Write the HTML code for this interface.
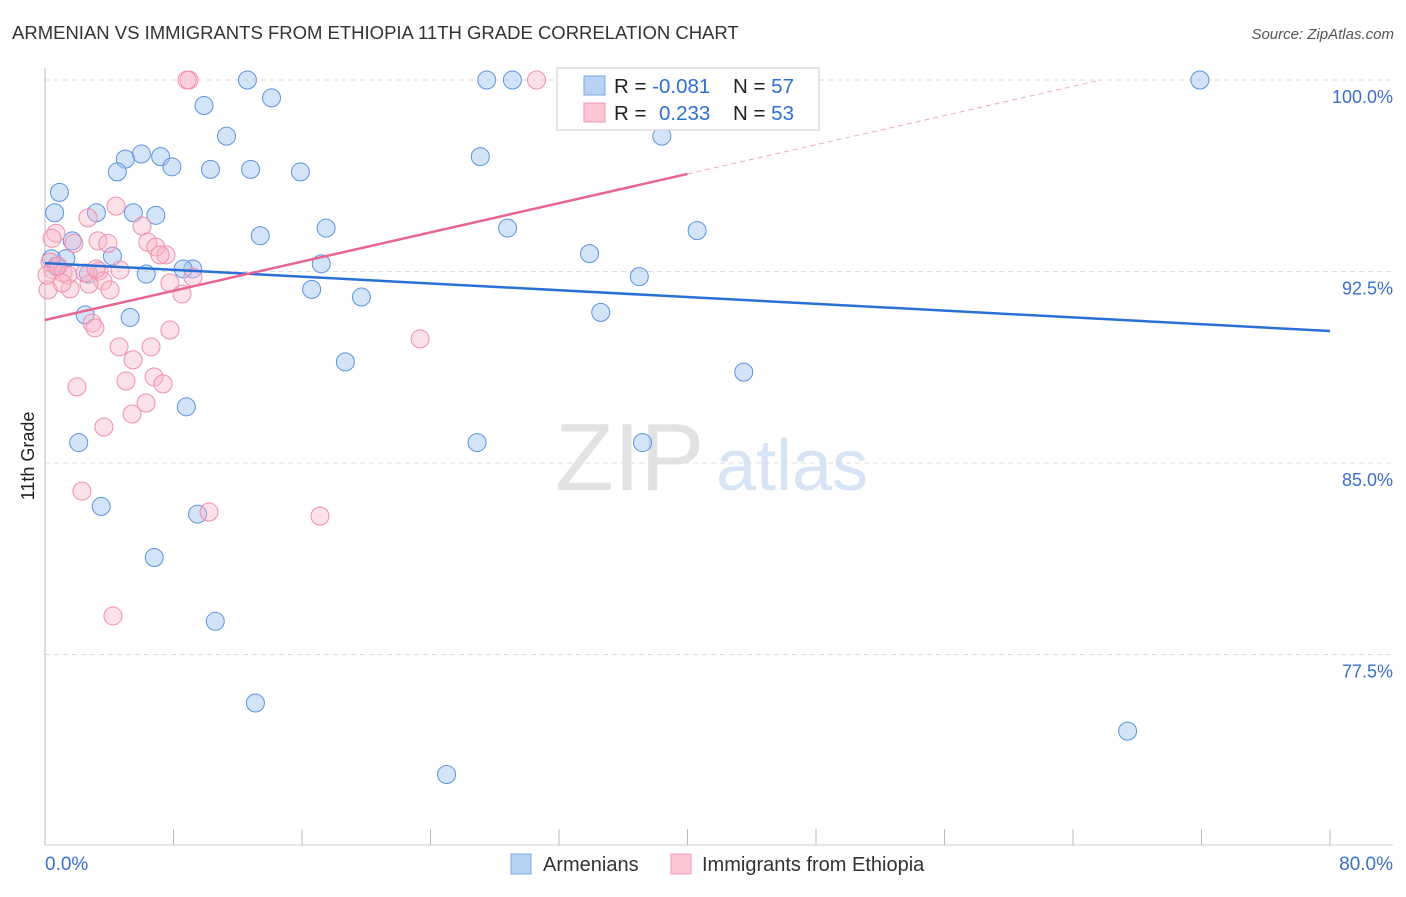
<!DOCTYPE html>
<html><head><meta charset="utf-8"><style>
body{margin:0;background:#fff;font-family:"Liberation Sans",sans-serif}
svg text{font-family:"Liberation Sans",sans-serif}
</style></head><body>
<svg id="c" width="1406" height="892">
<text x="12" y="39" font-size="18.5" fill="#333">ARMENIAN VS IMMIGRANTS FROM ETHIOPIA 11TH GRADE CORRELATION CHART</text>
<text x="1394" y="39" font-size="15" fill="#555" text-anchor="end" font-style="italic">Source: ZipAtlas.com</text>
<text x="555" y="490" font-size="96" fill="#e2e2e2" font-family="Liberation Serif">ZIP</text>
<text x="716" y="490" font-size="72" fill="#d6e4f5">atlas</text>
<g id="grid"></g><g id="pts"></g><g id="lines"></g>
<text transform="translate(34,456) rotate(-90)" font-size="18" fill="#222" text-anchor="middle">11th Grade</text>
<text x="45" y="870" font-size="19" fill="#3a6fd0">0.0%</text>
<text x="1393" y="870" font-size="19" fill="#3a6fd0" text-anchor="end">80.0%</text>
<g>
<rect x="557" y="68" width="262" height="62" fill="#fff" stroke="#ccc"/>
<rect x="584" y="76" width="21" height="19" fill="#b8d2f3" stroke="#7aa6e6"/>
<rect x="584" y="103" width="21" height="19" fill="#fcc6d5" stroke="#f19ab4"/>
<text x="614" y="93" font-size="20.5" fill="#222">R = <tspan fill="#2c6fd6">-0.081</tspan></text>
<text x="733" y="93" font-size="20.5" fill="#222">N = <tspan fill="#2c6fd6">57</tspan></text>
<text x="614" y="120" font-size="20.5" fill="#222">R = <tspan fill="#2c6fd6" x="659">0.233</tspan></text>
<text x="733" y="120" font-size="20.5" fill="#222">N = <tspan fill="#2c6fd6">53</tspan></text>
</g>
<g>
<rect x="511" y="854" width="20" height="20" fill="#b8d2f3" stroke="#7aa6e6"/>
<text x="543" y="871" font-size="20" fill="#333">Armenians</text>
<rect x="671" y="854" width="20" height="20" fill="#fcc6d5" stroke="#f19ab4"/>
<text x="702" y="871" font-size="20" fill="#333">Immigrants from Ethiopia</text>
</g>
</svg>
<script>
const yTicks=[100,92.5,85,77.5];
const yTickLabels=["100.0%","92.5%","85.0%","77.5%"];
const xTicks=[0,8,16,24,32,40,48,56,64,72,80];
const blueX=[12.6,27.5,29.1,32.8,71.9,9.9,14.1,11.3,38.4,6.0,7.2,5.0,7.9,10.3,12.8,4.5,15.9,27.1,0.9,0.6,3.2,5.5,6.9,17.5,13.4,28.8,40.6,1.7,33.9,4.2,1.3,0.4,17.2,6.3,9.2,8.6,2.7,37.0,16.6,19.7,34.6,2.5,5.3,18.7,43.5,8.8,2.1,26.9,37.2,3.5,9.5,6.8,10.6,13.1,67.4,25.0,0.7];
const blueY=[100,100,100,100,100,99.0,99.3,97.8,97.8,97.1,97.0,96.9,96.6,96.5,96.5,96.4,96.4,97.0,95.6,94.8,94.8,94.8,94.7,94.2,93.9,94.2,94.1,93.7,93.2,93.1,93.0,93.0,92.8,92.4,92.6,92.6,92.4,92.3,91.8,91.5,90.9,90.8,90.7,88.96,88.56,87.2,85.8,85.8,85.8,83.3,83.0,81.3,78.8,75.6,74.5,72.8,92.7];
const pinkX=[8.97,8.84,30.6,32.8,4.42,2.68,6.04,0.68,0.44,1.8,3.3,3.92,6.4,6.9,7.53,7.16,0.31,0.5,1.12,1.43,3.36,4.67,3.61,2.74,4.05,1.56,7.78,8.53,9.21,2.93,3.11,7.78,23.35,4.61,6.6,5.48,6.79,5.04,7.35,1.99,6.29,5.42,3.67,2.3,10.21,17.12,4.23,0.19,1.06,0.12,0.81,2.49,3.18];
const pinkY=[100,100,100,100,95.06,94.6,94.28,94.0,93.8,93.6,93.7,93.6,93.65,93.46,93.15,93.15,92.87,92.56,92.44,92.36,92.52,92.56,92.13,92.01,91.78,91.82,92.05,91.62,92.28,90.48,90.29,90.21,89.86,89.55,89.55,89.04,88.37,88.21,88.1,87.98,87.35,86.92,86.41,83.9,83.08,82.92,79.01,91.78,92.05,92.36,92.72,92.44,92.6];
const blueLine=[92.83,90.17];
const pinkLine=[90.60,96.32];
const X0=45,X1=1330;
const xs=v=>X0+v/80*(X1-X0);
const ys=v=>80+(100-v)/7.5*191.5;
const NS="http://www.w3.org/2000/svg";
function mk(t,a,p){const e=document.createElementNS(NS,t);for(const k in a)e.setAttribute(k,a[k]);p.appendChild(e);return e;}
const grid=document.getElementById('grid');
yTicks.forEach((t,i)=>{
 const l=mk('line',{x1:X0,x2:1393,y1:ys(t),y2:ys(t),stroke:'#ddd','stroke-dasharray':'5,4'},grid);
 
 
 const tx=mk('text',{x:1393,y:ys(t)+23,'font-size':18,fill:'#3a6fd0','text-anchor':'end'},grid);
 tx.textContent=yTickLabels[i];
 
 
});
const ax=mk('line',{x1:X0,x2:X0,y1:68,y2:845,stroke:'#bbb'},grid);


const bx=mk('line',{x1:X0,x2:1393,y1:845,y2:845,stroke:'#ccc'},grid);


xTicks.forEach(t=>{
 const k=mk('line',{x1:xs(t),x2:xs(t),y1:829,y2:845,stroke:'#bbb'},grid);
 
 
});
const pts=document.getElementById('pts');
blueX.forEach((v,i)=>{
 const c=mk('circle',{cx:xs(v),cy:ys(blueY[i]),r:9,fill:'rgba(160,196,240,0.45)',stroke:'#5b93e0','stroke-width':1},pts);
 
 
});
pinkX.forEach((v,i)=>{
 const c=mk('circle',{cx:xs(v),cy:ys(pinkY[i]),r:9,fill:'rgba(250,180,200,0.4)',stroke:'#ef8fac','stroke-width':1},pts);
 
 
});
const lines=document.getElementById('lines');
const b=mk('line',{x1:xs(0),y1:ys(blueLine[0]),x2:xs(80),y2:ys(blueLine[1]),stroke:'#2a6fd6','stroke-width':2.5},lines);


const slope=(pinkLine[1]-pinkLine[0])/40;
const p=mk('line',{x1:xs(0),y1:ys(pinkLine[0]),x2:xs(40),y2:ys(pinkLine[1]),stroke:'#e8658f','stroke-width':2.5},lines);


const xe=(100-pinkLine[0])/slope;
const d=mk('line',{x1:xs(40),y1:ys(pinkLine[1]),x2:xs(xe),y2:ys(100),stroke:'#eeaabd','stroke-width':1,'stroke-dasharray':'5,4'},lines);


</script>
</body></html>
